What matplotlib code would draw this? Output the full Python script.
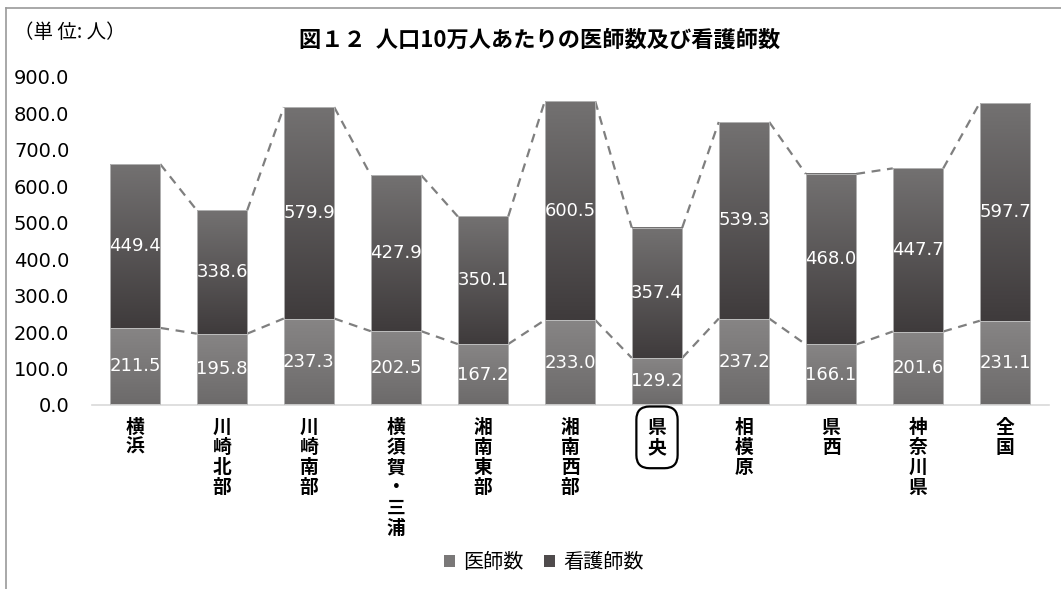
import numpy as np
import matplotlib.pyplot as plt
from matplotlib.colors import to_rgb
from matplotlib.lines import Line2D
from matplotlib.patches import Patch

plt.rcParams['font.family'] = ['Noto Sans CJK JP', 'DejaVu Sans']

areas = ['横浜', '川崎北部', '川崎南部', '横須賀・三浦', '湘南東部', '湘南西部',
         '県央', '相模原', '県西', '神奈川県', '全国']
doctors = [211.5, 195.8, 237.3, 202.5, 167.2, 233.0, 129.2, 237.2, 166.1, 201.6, 231.1]
nurses = [449.4, 338.6, 579.9, 427.9, 350.1, 600.5, 357.4, 539.3, 468.0, 447.7, 597.7]

W, H = 1061, 589
fig = plt.figure(figsize=(W / 100, H / 100), dpi=100)
ax = fig.add_axes([91.5 / W, 1 - 405 / H, 957 / W, 328 / H])

x = np.arange(len(areas))
width = 0.58
doc = np.array(doctors)
nur = np.array(nurses)
tops = doc + nur


def grad_bar(xc, bottom, top, c_top, c_bot):
    g = np.linspace(0, 1, 64).reshape(-1, 1)
    c1 = np.array(to_rgb(c_top))
    c2 = np.array(to_rgb(c_bot))
    img = (c1 * (1 - g) + c2 * g)[:, None, :].repeat(2, axis=1)
    ax.imshow(img, extent=(xc - width / 2, xc + width / 2, bottom, top),
              aspect='auto', origin='upper', zorder=2, interpolation='bilinear')
    ax.add_patch(plt.Rectangle((xc - width / 2, bottom), width, top - bottom,
                               fill=False, ec='#bdbdbd', lw=0.6, zorder=3))


for i in x:
    grad_bar(i, 0, doc[i], '#878585', '#6c6a6a')
    grad_bar(i, doc[i], tops[i], '#737171', '#3f3b3c')
    ax.text(i, doc[i] / 2, f'{doc[i]:.1f}', color='white', ha='center', va='center',
            fontsize=13, family='DejaVu Sans', zorder=4)
    ax.text(i, doc[i] + nur[i] / 2, f'{nur[i]:.1f}', color='white', ha='center',
            va='center', fontsize=13, family='DejaVu Sans', zorder=4)

# series lines between neighbouring bars
for i in x[:-1]:
    for vals in (doc, tops):
        ax.plot([i + width / 2, i + 1 - width / 2], [vals[i], vals[i + 1]],
                ls=(0, (4, 3)), color='#7f7f7f', lw=1.6, zorder=1)

ax.set_xlim(-0.5, len(areas) - 0.5)
ax.set_ylim(0, 900)
ax.set_yticks(np.arange(0, 901, 100))
ax.set_yticklabels([f'{v:.1f}' for v in range(0, 901, 100)], fontsize=14,
                   family='DejaVu Sans')
ax.tick_params(axis='y', length=0, pad=16)
ax.tick_params(axis='x', length=0)
for s in ('top', 'right', 'left'):
    ax.spines[s].set_visible(False)
ax.spines['bottom'].set_color('#d9d9d9')
ax.spines['bottom'].set_linewidth(1.2)
ax.set_xticks(x)
ax.set_xticklabels([])

for i, name in enumerate(areas):
    kw = {}
    if name == '県央':
        kw['bbox'] = dict(boxstyle='round,pad=0.6,rounding_size=0.7', fc='white',
                          ec='black', lw=1.6)
    ax.text(i, -35, '\n'.join(name), ha='center', va='top', fontsize=13.5,
            fontweight='bold', linespacing=1.08, clip_on=False, **kw)

fig.text(14 / W, 1 - 32 / H, '（単 位: 人）', fontsize=14, va='center', ha='left')
fig.text(540 / W, 1 - 40 / H, '図１２  人口10万人あたりの医師数及び看護師数',
         fontsize=16, fontweight='bold', ha='center', va='center')

handles = [Patch(fc='#7a7878', ec='none'), Patch(fc='#4f4b4c', ec='none')]
fig.legend(handles, ['医師数', '看護師数'], loc='center', bbox_to_anchor=(544 / W, 1 - 563 / H),
           ncol=2, frameon=False, fontsize=14.5, handlelength=0.55, handleheight=0.55,
           handletextpad=0.4, columnspacing=1.0)

# outer frame
fig.add_artist(Line2D([6 / W, 6 / W], [0, 1 - 8 / H], color='#9a9a9a', lw=1.2))
fig.add_artist(Line2D([6 / W, 1], [1 - 8 / H, 1 - 8 / H], color='#9a9a9a', lw=1.2))

fig.savefig('out.png', dpi=100)
